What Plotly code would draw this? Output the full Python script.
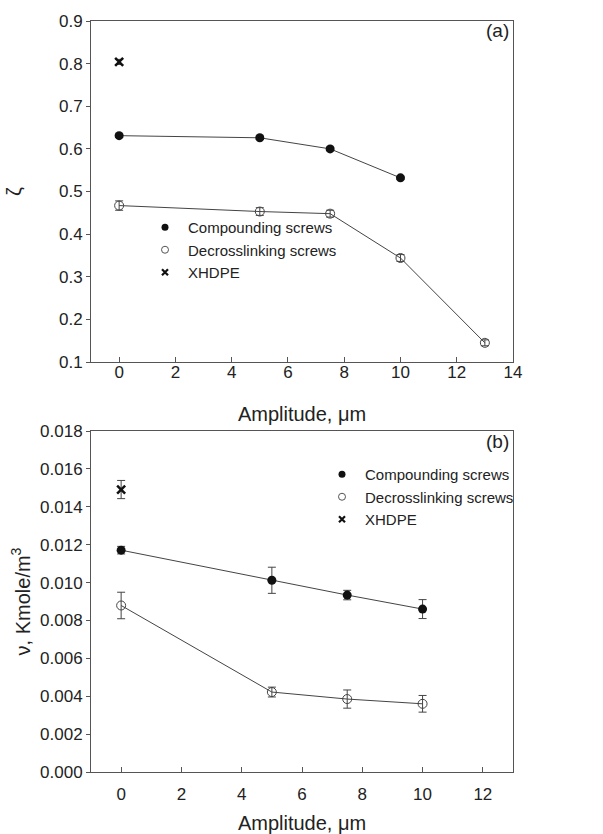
import plotly.graph_objects as go

# ---------------- data ----------------
# Panel (a): zeta vs amplitude
amp_a_comp = [0, 5, 7.5, 10]
zeta_comp = [0.631, 0.626, 0.600, 0.532]
zeta_comp_err = [0.004, 0.004, 0.004, 0.004]

amp_a_decr = [0, 5, 7.5, 10, 13]
zeta_decr = [0.467, 0.453, 0.448, 0.344, 0.145]
zeta_decr_err = [0.011, 0.009, 0.008, 0.008, 0.007]

amp_a_x = [0]
zeta_x = [0.804]
zeta_x_err = [0.006]

# Panel (b): nu vs amplitude
amp_b_comp = [0, 5, 7.5, 10]
nu_comp = [0.01171, 0.01012, 0.00934, 0.00860]
nu_comp_err = [0.00020, 0.00069, 0.00025, 0.00050]

amp_b_decr = [0, 5, 7.5, 10]
nu_decr = [0.00879, 0.00422, 0.00385, 0.00360]
nu_decr_err = [0.00070, 0.00026, 0.00048, 0.00044]

amp_b_x = [0]
nu_x = [0.01491]
nu_x_err = [0.00048]

legend_names = ["Compounding screws", "Decrosslinking screws", "XHDPE"]

# ---------------- style ----------------
FONT = "Liberation Sans, Arial, sans-serif"
TXT = "#222222"
LINE = "#444444"
W, H = 603, 834

fig = go.Figure()

def err(vals):
    return dict(type="data", array=vals, visible=True, color=LINE, thickness=1, width=4)

# ---- panel (a) ----
fig.add_trace(go.Scatter(x=amp_a_comp, y=zeta_comp, error_y=err(zeta_comp_err),
                         mode="lines+markers", line=dict(color=LINE, width=1),
                         marker=dict(symbol="circle", size=9, color="#111111"),
                         xaxis="x", yaxis="y", showlegend=False))
fig.add_trace(go.Scatter(x=amp_a_decr, y=zeta_decr, error_y=err(zeta_decr_err),
                         mode="lines+markers", line=dict(color=LINE, width=1),
                         marker=dict(symbol="circle-open", size=9, color=LINE, line=dict(width=1, color=LINE)),
                         xaxis="x", yaxis="y", showlegend=False))
fig.add_trace(go.Scatter(x=amp_a_x, y=zeta_x, error_y=err(zeta_x_err),
                         mode="markers",
                         marker=dict(symbol="x-thin", size=8, color="#111111", line=dict(width=2.5, color="#111111")),
                         xaxis="x", yaxis="y", showlegend=False))

# ---- panel (b) ----
fig.add_trace(go.Scatter(x=amp_b_comp, y=nu_comp, error_y=err(nu_comp_err),
                         mode="lines+markers", line=dict(color=LINE, width=1),
                         marker=dict(symbol="circle", size=9, color="#111111"),
                         xaxis="x2", yaxis="y2", showlegend=False))
fig.add_trace(go.Scatter(x=amp_b_decr, y=nu_decr, error_y=err(nu_decr_err),
                         mode="lines+markers", line=dict(color=LINE, width=1),
                         marker=dict(symbol="circle-open", size=9, color=LINE, line=dict(width=1, color=LINE)),
                         xaxis="x2", yaxis="y2", showlegend=False))
fig.add_trace(go.Scatter(x=amp_b_x, y=nu_x, error_y=err(nu_x_err),
                         mode="markers",
                         marker=dict(symbol="x-thin", size=8, color="#111111", line=dict(width=2.5, color="#111111")),
                         xaxis="x2", yaxis="y2", showlegend=False))

# ---- legend entries (markers only) ----
leg_markers = [
    dict(symbol="circle", size=7, color="#111111"),
    dict(symbol="circle-open", size=7, color="#555555", line=dict(width=1, color="#555555")),
    dict(symbol="x-thin", size=6, color="#111111", line=dict(width=2.2, color="#111111")),
]
for lg, xa, ya in (("legend", "x", "y"), ("legend2", "x2", "y2")):
    for name, mk in zip(legend_names, leg_markers):
        fig.add_trace(go.Scatter(x=[None], y=[None], mode="markers", name=name, marker=mk,
                                 xaxis=xa, yaxis=ya, legend=lg, showlegend=True))

xdom = [91 / W, 513 / W]
ydom_a = [1 - 362 / H, 1 - 21 / H]
ydom_b = [1 - 772 / H, 1 - 431 / H]

axis_common = dict(showline=True, mirror=True, linecolor="#555555", linewidth=1,
                   showgrid=False, zeroline=False, automargin=False,
                   tickfont=dict(family=FONT, size=17, color=TXT),
                   tickcolor="#555555")

title_font = dict(family=FONT, size=20, color=TXT)
leg_font = dict(family=FONT, size=15, color=TXT)

fig.update_layout(
    width=W, height=H, autosize=False,
    margin=dict(l=0, r=0, t=0, b=0, autoexpand=False),
    paper_bgcolor="white", plot_bgcolor="white",
    font=dict(family=FONT, color=TXT),
    xaxis=dict(domain=xdom, anchor="y", range=[-1, 14], tick0=0, dtick=2,
               ticks="inside", ticklen=5, ticklabelstandoff=-5,
               title=dict(text="Amplitude, μm", font=title_font, standoff=25),
               **axis_common),
    yaxis=dict(domain=ydom_a, anchor="x", range=[0.1, 0.9], tick0=0.1, dtick=0.1,
               tickformat=".1f", ticks="outside", ticklen=4,
               title=dict(text="ζ", font=title_font, standoff=31),
               **axis_common),
    xaxis2=dict(domain=xdom, anchor="y2", range=[-1, 13], tick0=0, dtick=2,
                ticks="inside", ticklen=5, ticklabelstandoff=7,
                title=dict(text="Amplitude, μm", font=title_font, standoff=13),
                **axis_common),
    yaxis2=dict(domain=ydom_b, anchor="x2", range=[0, 0.018], tick0=0, dtick=0.002,
                tickformat=".3f", ticks="outside", ticklen=4,
                title=dict(text="ν, Kmole/m<sup>3</sup>", font=title_font, standoff=4),
                **axis_common),
    legend=dict(x=142 / W, y=1 - 211 / H, xanchor="left", yanchor="top",
                bgcolor="rgba(0,0,0,0)", borderwidth=0, itemwidth=36,
                font=leg_font, tracegroupgap=0),
    legend2=dict(x=319 / W, y=1 - 458 / H, xanchor="left", yanchor="top",
                 bgcolor="rgba(0,0,0,0)", borderwidth=0, itemwidth=36,
                 font=leg_font, tracegroupgap=0),
    annotations=[
        dict(text="(a)", x=1, y=1, xref="x domain", yref="y domain", xanchor="right", yanchor="top",
             xshift=-2, yshift=3, showarrow=False, font=dict(family=FONT, size=19, color=TXT)),
        dict(text="(b)", x=1, y=1, xref="x2 domain", yref="y2 domain", xanchor="right", yanchor="top",
             xshift=-2, yshift=2, showarrow=False, font=dict(family=FONT, size=19, color=TXT)),
    ],
)

fig.write_html("out.html")
